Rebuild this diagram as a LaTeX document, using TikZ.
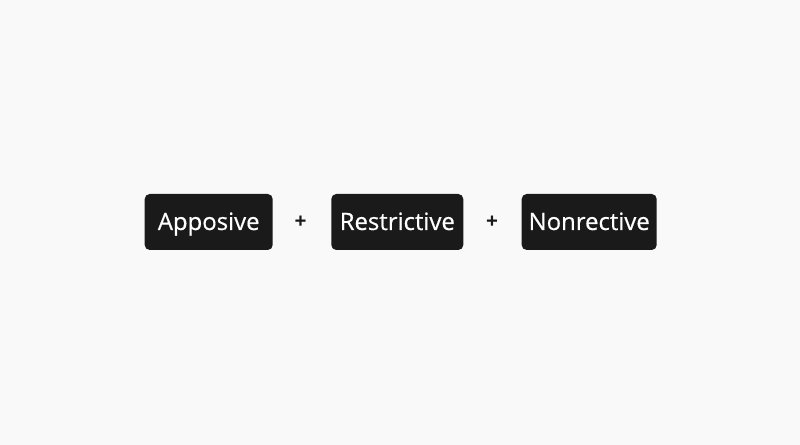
\documentclass[tikz,border=0pt]{standalone}
\usepackage{fontspec}
\setmainfont{Open Sans}
\newfontfamily\boxfont[FakeBold=0.5]{Open Sans}
\definecolor{bgcol}{HTML}{F9F9F9}
\definecolor{boxcol}{HTML}{1A1A1A}
\begin{document}
\begin{tikzpicture}[line join=bevel,
  termbox/.style={fill=boxcol,draw=none,rounded corners=5bp,text=white,
    font=\boxfont\fontsize{24}{28}\selectfont,minimum height=56bp,inner sep=0bp,
    text height=20bp,text depth=4bp},
  plussign/.style={draw=none,text=boxcol,font=\fontsize{21}{24}\selectfont\bfseries}]
%%
\fill [bgcol] (0bp,0bp) rectangle (800bp,445bp);
\useasboundingbox (0bp,0bp) rectangle (800bp,445bp);
  \node (node_0) at (208.7bp,223.0bp) [termbox,minimum width=128bp] {Apposive};
  \node (node_1) at (300.7bp,223.0bp) [plussign] {+};
  \node (node_2) at (397.3bp,223.0bp) [termbox,minimum width=132bp] {Restrictive};
  \node (node_3) at (492.0bp,223.0bp) [plussign] {+};
  \node (node_4) at (589.2bp,223.0bp) [termbox,minimum width=135bp] {Nonrective};
%
\end{tikzpicture}
\end{document}
